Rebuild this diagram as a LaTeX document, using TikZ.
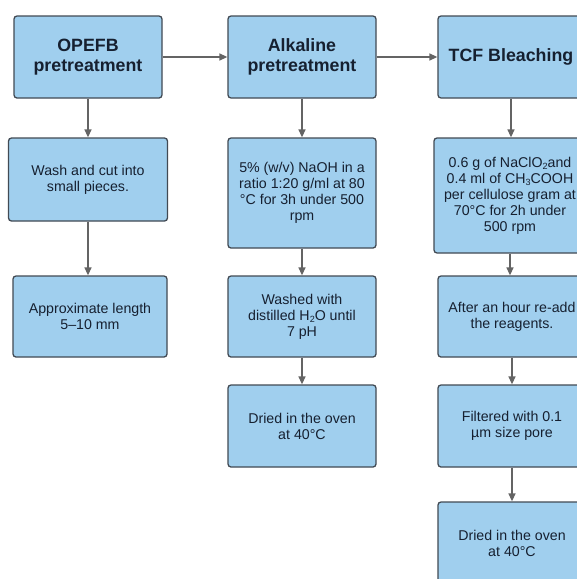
\documentclass[tikz,border=0pt]{standalone}
\usepackage{fontspec}
\setmainfont{Liberation Sans}
\usetikzlibrary{arrows.meta}
\definecolor{boxblue}{RGB}{160,207,238}
\definecolor{boxedge}{RGB}{66,74,84}
\definecolor{flowgray}{RGB}{100,100,100}
\definecolor{textnavy}{RGB}{22,32,48}
\newcommand{\lowsub}[1]{\raisebox{-2pt}{\fontsize{9}{9}\selectfont #1}}

\begin{document}
\begin{tikzpicture}[x=1pt, y=-1pt,
    box/.style={draw=boxedge, fill=boxblue, line width=1.3pt, rounded corners=3pt,
                text=textnavy, align=center, inner sep=0pt,
                font=\fontsize{14.2}{16}\selectfont},
    head/.style={box, font=\fontsize{17.8}{20}\selectfont\bfseries},
    flow/.style={flowgray, line width=1.4pt, -{Triangle[length=8pt,width=7pt]}}]
    \fill[white] (0,0) rectangle (577,579);
    \useasboundingbox (0,0) rectangle (577,579);
    \clip (0,0) rectangle (577,579);

    % Column 1: OPEFB
    \node[head, minimum width=148pt, minimum height=82pt] (opefb) at (88,57) {OPEFB\\pretreatment};
    \node[box, minimum width=159pt, minimum height=83pt] (wash) at (88,179.5) {Wash and cut into\\small pieces.};
    \node[box, minimum width=154pt, minimum height=81pt] (length) at (90,316.5) {Approximate length\\5--10 mm};

    % Column 2: alkaline
    \node[head, minimum width=148pt, minimum height=82pt] (alkaline) at (302,57) {Alkaline\\pretreatment};
    \node[box, minimum width=148pt, minimum height=110pt] (naoh) at (302,193) {5\% (w/v) NaOH in a\\ratio 1:20 g/ml at 80\\°C for 3h under 500\\rpm};
    \node[box, minimum width=148pt, minimum height=81pt] (washed) at (302,316.5) {Washed with\\distilled H\lowsub{2}O until\\7 pH};
    \node[box, minimum width=148pt, minimum height=82pt] (dried) at (302,426) {Dried in the oven\\at 40°C};

    % Column 3: bleaching
    \node[head, minimum width=146pt, minimum height=82pt] (tcf) at (511,57) {TCF Bleaching};
    \node[box, minimum width=152pt, minimum height=115pt] (bleach) at (510,195.5) {0.6 g of NaClO\lowsub{2}and\\0.4 ml of CH\lowsub{3}COOH\\per cellulose gram at\\70°C for 2h under\\500 rpm};
    \node[box, minimum width=148pt, minimum height=81pt] (readd) at (512,316.5) {After an hour re-add\\the reagents.};
    \node[box, minimum width=148pt, minimum height=82pt] (filtered) at (512,426) {Filtered with 0.1\\µm size pore};
    \node[box, minimum width=148pt, minimum height=83pt] (driedb) at (512,543.5) {Dried in the oven\\at 40°C};

    % Connectors
    \draw[flow] (opefb.east) -- (alkaline.west);
    \draw[flow] (alkaline.east) -- (tcf.west);
    \draw[flow] (opefb.south) -- (opefb.south |- wash.north);
    \draw[flow] (wash.south) -- (wash.south |- length.north);
    \draw[flow] (alkaline.south) -- (naoh.north);
    \draw[flow] (naoh.south) -- (washed.north);
    \draw[flow] (washed.south) -- (dried.north);
    \draw[flow] (tcf.south) -- (tcf.south |- bleach.north);
    \draw[flow] (bleach.south) -- (bleach.south |- readd.north);
    \draw[flow] (readd.south) -- (filtered.north);
    \draw[flow] (filtered.south) -- (driedb.north);
\end{tikzpicture}
\end{document}
